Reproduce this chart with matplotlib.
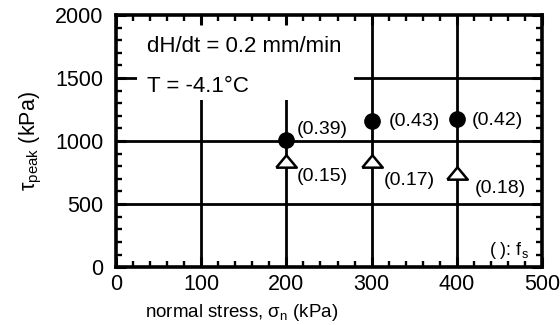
import matplotlib
matplotlib.use("Agg")
import matplotlib.pyplot as plt
from matplotlib.patches import Rectangle
from matplotlib.ticker import MultipleLocator

plt.rcParams['font.family'] = ['Liberation Sans', 'DejaVu Sans']
plt.rcParams['mathtext.fontset'] = 'custom'
plt.rcParams['mathtext.rm'] = 'Liberation Sans'
plt.rcParams['mathtext.it'] = 'Liberation Sans:italic'

# data
normal_stress = [200, 300, 400]
tau_peak = [1005, 1160, 1175]
tau_residual = [845, 845, 750]
fs_peak = ["(0.39)", "(0.43)", "(0.42)"]
fs_resid = ["(0.15)", "(0.17)", "(0.18)"]
x_ticks = [0, 100, 200, 300, 400, 500]
y_ticks = [0, 500, 1000, 1500, 2000]

fig = plt.figure(figsize=(5.6, 3.25), dpi=100)
ax = fig.add_axes([0.207, 0.178, 0.761, 0.776])
ax.set_xlim(0, 500)
ax.set_ylim(0, 2000)

# grid lines
for xv in x_ticks[1:-1]:
    ax.axvline(xv, color='black', lw=2.0, zorder=1)
for yv in y_ticks[1:-1]:
    ax.axhline(yv, color='black', lw=2.0, zorder=1)

# white box behind condition text
ax.add_patch(Rectangle((0.049, 0.663), 0.51, 0.34, transform=ax.transAxes,
                       facecolor='white', edgecolor='none', zorder=2))
ax.text(0.073, 0.873, "dH/dt = 0.2 mm/min", transform=ax.transAxes,
        fontsize=16, va='center', ha='left', zorder=4)
ax.text(0.073, 0.718, "T = -4.1°C", transform=ax.transAxes,
        fontsize=16, va='center', ha='left', zorder=4)

tri = [(-1, -0.6), (1, -0.6), (0, 0.6), (-1, -0.6)]
ax.plot(normal_stress, tau_peak, linestyle='none', marker='o', markersize=11,
        color='black', zorder=5)
ax.plot(normal_stress, tau_residual, linestyle='none', marker=tri, markersize=14.8,
        markerfacecolor='white', markeredgecolor='black', markeredgewidth=1.8, zorder=5)

peak_offsets = [(12, 90), (20, -5), (17, -15)]
res_offsets = [(12, -130), (14, -155), (21, -123)]
for x, y, s, (dx, dy) in zip(normal_stress, tau_peak, fs_peak, peak_offsets):
    ax.text(x + dx, y + dy, s, fontsize=14, va='center', ha='left', zorder=4)
for x, y, s, (dx, dy) in zip(normal_stress, tau_residual, fs_resid, res_offsets):
    ax.text(x + dx, y + dy, s, fontsize=14, va='center', ha='left', zorder=4)

ax.text(0.97, 0.065, r"( ): f$_\mathregular{s}$", transform=ax.transAxes,
        fontsize=13, va='center', ha='right', zorder=4)

ax.set_xticks(x_ticks)
ax.set_yticks(y_ticks)
ax.xaxis.set_minor_locator(MultipleLocator(20))
ax.yaxis.set_minor_locator(MultipleLocator(100))
ax.tick_params(which='both', direction='in', top=True, right=True, colors='black')
ax.tick_params(which='major', length=7, width=2.2, labelsize=15.5, pad=5)
ax.tick_params(which='minor', length=4.5, width=1.7)
ax.tick_params(axis='y', which='major', pad=9)
ax.set_axisbelow(False)
for sp in ax.spines.values():
    sp.set_linewidth(2.6)
    sp.set_zorder(6)

ax.set_xlabel(r"normal stress, σ$_\mathregular{n}$ (kPa)", fontsize=13.5)
ax.xaxis.set_label_coords(0.296, -0.178)
ax.xaxis.label.set_va('center')
ax.set_ylabel(r"τ$_\mathregular{peak}$ (kPa)", fontsize=15.5, labelpad=8)

fig.savefig("out.png", dpi=100)
